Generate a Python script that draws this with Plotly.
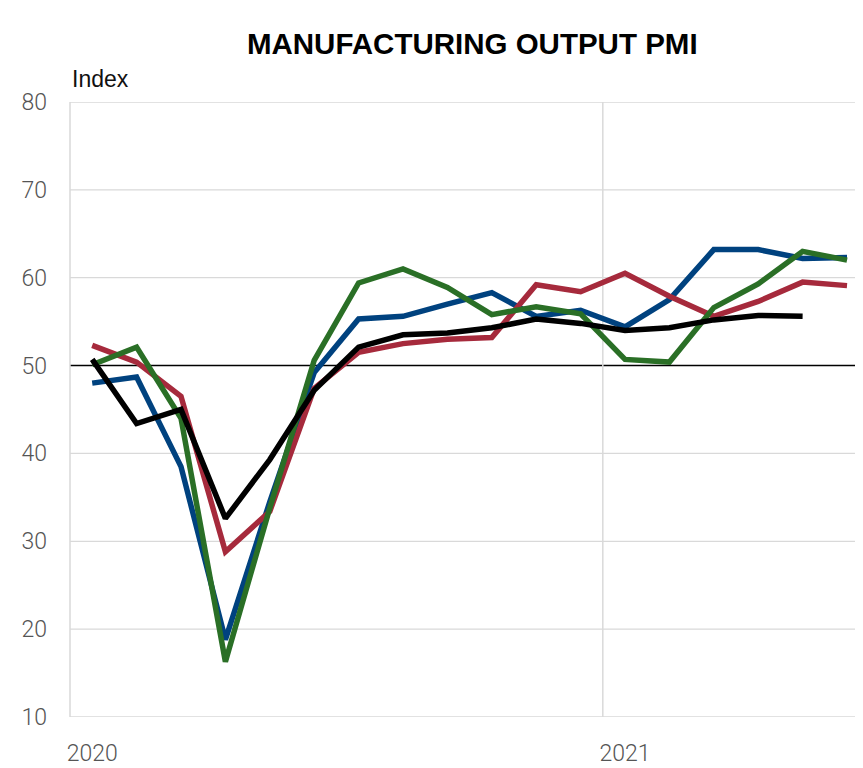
import plotly.graph_objects as go

months = list(range(18))  # Jan 2020 .. Jun 2021
tick_vals = [0, 12]
tick_text = ["2020", "2021"]
y_ticks = [10, 20, 30, 40, 50, 60, 70, 80]

blue = [48.0, 48.7, 38.5, 18.8, 34.5, 49.2, 55.3, 55.6, 57.0, 58.3, 55.6, 56.3,
        54.4, 57.5, 63.2, 63.2, 62.2, 62.3]
red = [52.3, 50.4, 46.5, 28.8, 33.4, 47.4, 51.5, 52.5, 53.0, 53.2, 59.2, 58.4,
       60.5, 57.9, 55.6, 57.3, 59.5, 59.1]
green = [50.1, 52.1, 44.0, 16.3, 33.8, 50.6, 59.4, 61.0, 58.9, 55.8, 56.7, 55.9,
         50.7, 50.4, 56.6, 59.3, 63.0, 62.0]
black = [50.7, 43.4, 45.0, 32.6, 39.3, 47.2, 52.1, 53.5, 53.7, 54.3, 55.3, 54.8,
         54.0, 54.3, 55.2, 55.7, 55.6]

series = [
    ("Blue", blue, "#00427f"),
    ("Red", red, "#a62a3c"),
    ("Green", green, "#2a6f26"),
    ("Black", black, "#000000"),
]

fig = go.Figure()
for name, vals, col in series:
    fig.add_trace(go.Scatter(x=months[:len(vals)], y=vals, mode="lines", name=name,
                             line=dict(color=col, width=5.5), cliponaxis=False))

# horizontal gridlines (50 drawn as black reference line)
for v in y_ticks:
    if v == 50:
        fig.add_shape(type="line", xref="paper", yref="y", x0=0, x1=1, y0=v, y1=v,
                      line=dict(color="#000000", width=1.6), layer="below")
    else:
        fig.add_shape(type="line", xref="paper", yref="y", x0=0, x1=1, y0=v, y1=v,
                      line=dict(color="#d9d9d9", width=1.3), layer="below")
# year boundary gridline
fig.add_shape(type="line", xref="x", yref="y", x0=11.5, x1=11.5, y0=10, y1=80,
              line=dict(color="#d9d9d9", width=1.5), layer="below")
# left plot border
fig.add_shape(type="line", xref="paper", yref="paper", x0=0, x1=0, y0=0, y1=1,
              line=dict(color="#d9d9d9", width=1.5), layer="below")

fig.update_layout(
    width=855, height=760,
    margin=dict(l=62, r=0, t=94, b=51),
    paper_bgcolor="white", plot_bgcolor="white",
    showlegend=False,
    title=dict(text="<b>MANUFACTURING OUTPUT PMI</b>", x=0.543, xanchor="center",
               y=0.953, yanchor="middle",
               font=dict(family="Liberation Sans, Arial", size=29.5, color="#000000")),
    xaxis=dict(range=[-0.5, 17.36], tickvals=tick_vals, ticktext=tick_text,
               showgrid=False, zeroline=False, showline=False,
               ticks="", ticklabelstandoff=20,
               tickfont=dict(family="Roboto", weight=300, size=23, color="#555555")),
    yaxis=dict(range=[10, 80], tickvals=y_ticks,
               showgrid=False, zeroline=False, showline=False, ticks="",
               ticklabelstandoff=22,
               tickfont=dict(family="Roboto", weight=300, size=23, color="#555555")),
    annotations=[dict(text="Index", xref="paper", yref="paper", x=0.0, y=1.0,
                      xanchor="left", yanchor="bottom", yshift=8, showarrow=False,
                      font=dict(family="Liberation Sans, Arial", size=23, color="#111111"))],
)

fig.write_html("out.html")
